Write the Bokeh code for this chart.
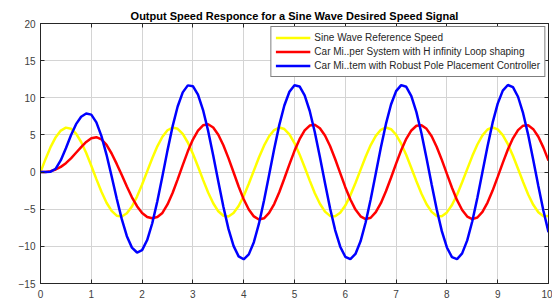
from bokeh.plotting import figure
from bokeh.models import ColumnDataSource, Legend, LegendItem, LinearAxis, FixedTicker, Range1d
from bokeh.embed import file_html
from bokeh.resources import INLINE

title_text = "Output Speed Responce for a Sine Wave Desired Speed Signal"
series_names = [
    "Sine Wave Reference Speed",
    "Car Mi..per System with H infinity Loop shaping",
    "Car Mi..tem with Robust Pole Placement Controller",
]
x_ticks = [0, 1, 2, 3, 4, 5, 6, 7, 8, 9, 10]
y_ticks = [-15, -10, -5, 0, 5, 10, 15, 20]

# time samples (s)
time = [round(0.1 * i, 1) for i in range(101)]

reference = [
    0.00, 1.77, 3.39, 4.70, 5.59, 5.98, 5.84, 5.18, 4.05, 2.56,
    0.85, -0.95, -2.66, -4.13, -5.23, -5.87, -5.98, -5.55, -4.64, -3.30,
    -1.68, 0.10, 1.87, 3.47, 4.76, 5.63, 5.99, 5.82, 5.13, 3.98,
    2.47, 0.75, -1.05, -2.75, -4.20, -5.28, -5.88, -5.97, -5.52, -4.57,
    -3.22, -1.58, 0.20, 1.96, 3.55, 4.82, 5.66, 6.00, 5.79, 5.07,
    3.90, 2.38, 0.65, -1.15, -2.84, -4.27, -5.32, -5.90, -5.96, -5.48,
    -4.51, -3.13, -1.48, 0.30, 2.06, 3.63, 4.88, 5.69, 6.00, 5.77,
    5.02, 3.82, 2.29, 0.55, -1.24, -2.92, -4.34, -5.36, -5.92, -5.95,
    -5.43, -4.44, -3.05, -1.38, 0.40, 2.15, 3.71, 4.94, 5.73, 6.00,
    5.74, 4.97, 3.75, 2.19, 0.45, -1.34, -3.01, -4.41, -5.40, -5.94,
    -5.93,
]

hinf = [
    0.00, 0.02, 0.12, 0.35, 0.70, 1.20, 1.85, 2.60, 3.35, 4.05,
    4.55, 4.70, 4.40, 3.65, 2.50, 1.10, -0.40, -1.95, -3.40, -4.60,
    -5.50, -6.05, -6.22, -6.05, -5.50, -4.35, -2.82, -0.98, 0.94, 2.79,
    4.38, 5.58, 6.29, 6.43, 6.00, 5.03, 3.61, 1.88, -0.03, -1.94,
    -3.66, -5.03, -5.97, -6.39, -6.22, -5.50, -4.30, -2.71, -0.87, 1.04,
    2.86, 4.42, 5.60, 6.26, 6.37, 5.91, 4.92, 3.50, 1.76, -0.14,
    -2.03, -3.70, -5.05, -5.96, -6.34, -6.15, -5.40, -4.19, -2.59, -0.76,
    1.14, 2.93, 4.47, 5.60, 6.23, 6.31, 5.82, 4.82, 3.38, 1.64,
    -0.25, -2.11, -3.78, -5.11, -5.99, -6.34, -6.12, -5.35, -4.11, -2.49,
    -0.65, 1.24, 3.03, 4.54, 5.65, 6.25, 6.30, 5.78, 4.75, 3.29,
    1.54,
]

robust = [
    0.00, 0.00, 0.05, 0.45, 1.60, 3.20, 4.95, 6.45, 7.45, 7.88,
    7.73, 6.69, 4.83, 2.32, -0.57, -3.56, -6.34, -8.63, -10.17, -10.83,
    -10.51, -9.15, -6.89, -3.94, -0.57, 2.92, 6.15, 8.83, 10.73, 11.67,
    11.56, 10.42, 8.35, 5.54, 2.23, -1.28, -4.68, -7.65, -9.94, -11.35,
    -11.74, -11.08, -9.44, -6.95, -3.83, -0.38, 3.11, 6.32, 8.96, 10.81,
    11.69, 11.53, 10.33, 8.22, 5.36, 2.03, -1.48, -4.86, -7.80, -10.05,
    -11.40, -11.73, -11.02, -9.32, -6.79, -3.65, -0.18, 3.30, 6.48, 9.09,
    10.89, 11.71, 11.48, 10.23, 8.07, 5.19, 1.84, -1.67, -5.03, -7.95,
    -10.15, -11.45, -11.72, -10.95, -9.20, -6.62, -3.46, 0.01, 3.49, 6.65,
    9.21, 10.96, 11.72, 11.44, 10.14, 7.92, 5.01, 1.64, -1.87, -5.21,
    -8.09,
]

src = ColumnDataSource(data=dict(t=time, ref=reference, hinf=hinf, robust=robust))

p = figure(
    width=552, height=300,
    x_range=Range1d(0, 10), y_range=Range1d(-15, 20),
    output_backend="svg", toolbar_location=None,
    min_border_left=40, min_border_right=4, min_border_top=23, min_border_bottom=16,
    background_fill_color="white", border_fill_color="white",
)
p.title.text = title_text
p.title.align = "center"
p.title.text_font = "Liberation Sans"
p.title.text_font_size = "11px"
p.title.text_font_style = "bold"
p.title.text_color = "#000000"
p.title.standoff = 4
p.title.offset = 0

p.outline_line_color = "#262626"
p.outline_line_width = 1
p.outline_line_alpha = 1

for ax, ticks in ((p.xaxis[0], x_ticks), (p.yaxis[0], y_ticks)):
    ax.ticker = FixedTicker(ticks=ticks)
    ax.major_tick_in = 4
    ax.major_tick_out = 0
    ax.minor_tick_in = 0
    ax.minor_tick_out = 0
    ax.axis_line_color = "#262626"
    ax.major_tick_line_color = "#262626"
    ax.major_label_text_font = "Liberation Sans"
    ax.major_label_text_font_size = "10px"
    ax.major_label_text_color = "#404040"
p.xaxis.major_label_standoff = 6
p.yaxis.major_label_standoff = 5

for loc, ticks in (("right", y_ticks), ("above", x_ticks)):
    ax = LinearAxis(ticker=FixedTicker(ticks=ticks))
    ax.major_tick_in = 4
    ax.major_tick_out = 0
    ax.minor_tick_in = 0
    ax.minor_tick_out = 0
    ax.major_label_overrides = {t: "" for t in ticks}
    ax.major_label_standoff = 0
    ax.major_label_text_font_size = "1px"
    ax.axis_line_color = "#262626"
    ax.major_tick_line_color = "#262626"
    p.add_layout(ax, loc)

p.xgrid.ticker = FixedTicker(ticks=x_ticks)
p.ygrid.ticker = FixedTicker(ticks=y_ticks)
p.grid.grid_line_color = "#d4d4d4"
p.grid.grid_line_width = 1

r1 = p.line("t", "ref", source=src, line_color="#ffff00", line_width=2.5)
r2 = p.line("t", "hinf", source=src, line_color="#ff0000", line_width=2.5)
r3 = p.line("t", "robust", source=src, line_color="#0000ff", line_width=2.5)

legend = Legend(
    items=[LegendItem(label=series_names[0], renderers=[r1]),
           LegendItem(label=series_names[1], renderers=[r2]),
           LegendItem(label=series_names[2], renderers=[r3])],
    location="top_right",
    margin=3, padding=4, spacing=1,
    glyph_width=35, glyph_height=13, label_height=13,
    label_standoff=4,
    label_text_font="Liberation Sans", label_text_font_size="10px",
    label_text_color="#262626",
    border_line_color="#000000", border_line_width=1,
    background_fill_color="white", background_fill_alpha=1,
)
p.add_layout(legend)

open("out.html", "w").write(file_html(p, INLINE))
